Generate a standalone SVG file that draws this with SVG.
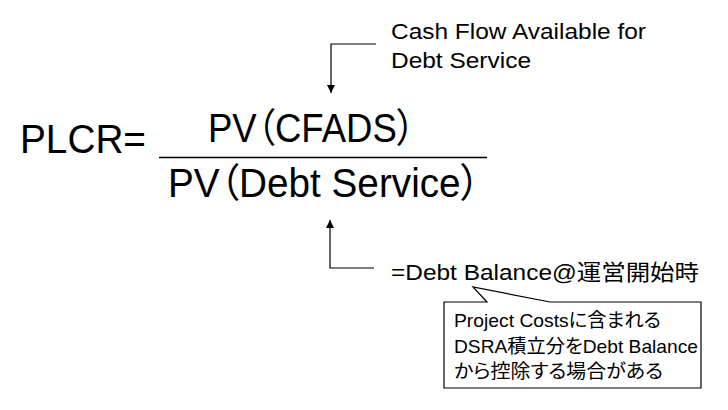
<svg xmlns="http://www.w3.org/2000/svg" width="728" height="410" viewBox="0 0 728 410">
<style>
text{font-family:"Liberation Sans","Noto Sans CJK JP",sans-serif;fill:#000;font-feature-settings:"palt"}
.big{font-size:40px}
.mid{font-size:22px}
.sm{font-size:19px}
.ln{stroke:#000;stroke-width:1.2;fill:none}
</style>
<defs>
<marker id="ah" viewBox="0 0 10 10" refX="10" refY="5" markerWidth="8" markerHeight="8" markerUnits="userSpaceOnUse" orient="auto">
<path d="M0,0 L10,5 L0,10 z" fill="#000"/>
</marker>
</defs>
<rect width="728" height="410" fill="#fff"/>
<g id="formula">
<text class="big" x="20" y="153" textLength="126" lengthAdjust="spacingAndGlyphs">PLCR=</text>
<text class="big" x="208" y="142" textLength="207" lengthAdjust="spacingAndGlyphs">PV（CFADS）</text>
<line x1="159" y1="157.5" x2="487" y2="157.5" stroke="#000" stroke-width="1.5"/>
<text class="big" x="168" y="197" textLength="312" lengthAdjust="spacingAndGlyphs">PV（Debt Service）</text>
</g>
<g id="cfads-label">
<text class="mid" x="391" y="39" textLength="255" lengthAdjust="spacingAndGlyphs">Cash Flow Available for</text>
<text class="mid" x="391" y="68" textLength="140" lengthAdjust="spacingAndGlyphs">Debt Service</text>
</g>
<g id="debt-label">
<text class="mid" x="391" y="280" textLength="308" lengthAdjust="spacingAndGlyphs">=Debt Balance@運営開始時</text>
</g>
<g id="callout">
<path class="ln" d="M444,302 H487 L473,287 L550,302 H701 V388 H444 Z" fill="#fff"/>
<text class="sm" x="454" y="327" textLength="207" lengthAdjust="spacingAndGlyphs">Project Costsに含まれる</text>
<text class="sm" x="454" y="353" textLength="244" lengthAdjust="spacingAndGlyphs">DSRA積立分をDebt Balance</text>
<text class="sm" x="454" y="378" textLength="209" lengthAdjust="spacingAndGlyphs">から控除する場合がある</text>
</g>
<g id="connectors">
<path class="ln" d="M376,44 H331 V93" marker-end="url(#ah)"/>
<path class="ln" d="M374,268 H330 V220" marker-end="url(#ah)"/>
</g>
</svg>
